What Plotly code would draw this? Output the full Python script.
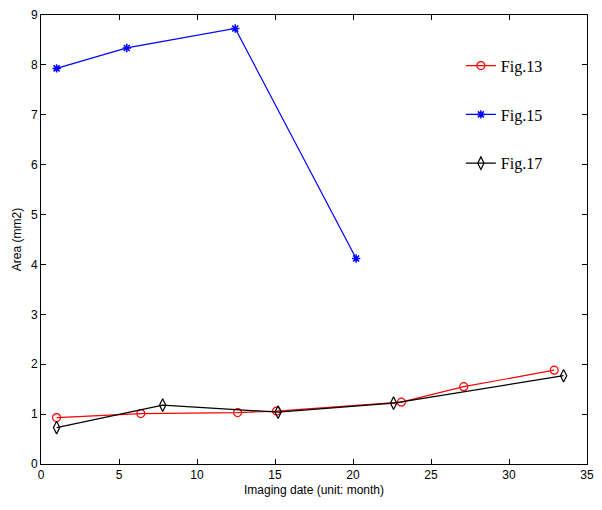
import plotly.graph_objects as go

fig13_x = [1.0, 6.4, 12.6, 15.1, 23.1, 27.1, 32.9]
fig13_y = [0.93, 1.01, 1.03, 1.06, 1.24, 1.55, 1.88]
fig15_x = [1.0, 5.5, 12.45, 20.2]
fig15_y = [7.93, 8.34, 8.73, 4.12]
fig17_x = [1.0, 7.8, 15.2, 22.6, 33.5]
fig17_y = [0.73, 1.18, 1.04, 1.22, 1.77]

fig = go.Figure()
fig.add_trace(go.Scatter(x=fig13_x, y=fig13_y, mode="lines+markers", name="Fig.13",
                         legendgroup="a",
                         line=dict(color="#ff0000", width=1.2),
                         marker=dict(symbol="circle-open", size=8, color="#ff0000", line=dict(width=1.2))))
fig.add_trace(go.Scatter(x=fig15_x, y=fig15_y, mode="lines+markers", name="Fig.15",
                         legendgroup="b",
                         line=dict(color="#0000ff", width=1.2),
                         marker=dict(symbol="asterisk-open", size=7, color="#0000ff", line=dict(width=1.5, color="#0000ff"))))
fig.add_trace(go.Scatter(x=fig17_x, y=fig17_y, mode="lines+markers", name="Fig.17",
                         legendgroup="c",
                         line=dict(color="#000000", width=1.2),
                         marker=dict(symbol="diamond-tall-open", size=9, color="#000000", line=dict(width=1.2))))

axis_common = dict(showgrid=False, zeroline=False, showline=True, linecolor="#000000", linewidth=1,
                   mirror="ticks", ticks="inside", ticklen=5, tickcolor="#000000", automargin=False,
                   tickfont=dict(family="Liberation Sans, Arial", size=12, color="#000000"))
fig.update_xaxes(range=[0, 35], dtick=5,
                 title=dict(text="Imaging date (unit: month)", font=dict(family="Liberation Sans, Arial", size=12, color="#000000"), standoff=4),
                 **axis_common)
fig.update_yaxes(range=[0, 9], dtick=1,
                 title=dict(text="Area (mm2)", font=dict(family="Liberation Sans, Arial", size=12, color="#000000"), standoff=6),
                 **axis_common)

fig.update_layout(
    width=602, height=510,
    margin=dict(l=33, r=23, t=7, b=54),
    paper_bgcolor="#ffffff", plot_bgcolor="#ffffff",
    showlegend=True,
    legend=dict(x=0.769, y=0.925, xanchor="left", yanchor="top",
                font=dict(family="Liberation Serif, Times New Roman", size=16, color="#000000"),
                tracegroupgap=25, bgcolor="rgba(0,0,0,0)", borderwidth=0),
)

fig.write_html("out.html")
